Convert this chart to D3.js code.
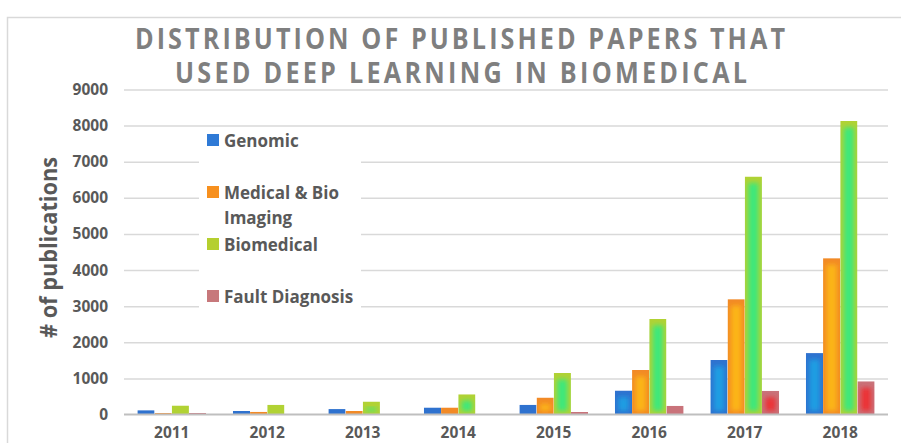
<!DOCTYPE html>
<html><head><meta charset="utf-8">
<script src="https://cdn.jsdelivr.net/npm/d3@7"></script>
<style>html,body{margin:0;padding:0;background:#fff;}svg{display:block;}</style>
</head><body>
<svg id="chart" width="901" height="443"></svg>
<script>
const years = ["2011","2012","2013","2014","2015","2016","2017","2018"];
const seriesNames = ["Genomic","Medical & Bio Imaging","Biomedical","Fault Diagnosis"];
const genomic   = [120, 100, 150, 195, 270, 665, 1510, 1700];
const medical   = [40, 75, 100, 195, 470, 1235, 3195, 4330];
const biomed    = [250, 270, 360, 560, 1150, 2645, 6590, 8130];
const fault     = [45, 0, 0, 0, 70, 240, 655, 920];
const yTicks    = [0,1000,2000,3000,4000,5000,6000,7000,8000,9000];
const titleLines = ["DISTRIBUTION OF PUBLISHED PAPERS THAT","USED DEEP LEARNING IN BIOMEDICAL"];
const yTitle = "# of publications";

const seriesValues = [genomic, medical, biomed, fault];
const edgeColors = ["#2f72cf","#f28a26","#b1d234","#c9737a"];
const centerColors = ["#1b9fe3","#fcb614","#3de87b","#ec3036"];
const legendColors = ["#2f7ad6","#f7901e","#b5cf2f","#c7787b"];

const svg = d3.select("#chart");
const textCol = "#595959";

// frame
svg.append("path").attr("d","M7.5,443 L7.5,17.5 L901,17.5").attr("fill","none").attr("stroke","#d9d9d9").attr("stroke-width",1.5);

const x0 = d3.scaleBand().domain(years).range([124,888]).paddingInner(0.28).paddingOuter(0.14);
const x1 = d3.scaleBand().domain(d3.range(4)).range([0,x0.bandwidth()]);
const y = d3.scaleLinear().domain([0,9000]).range([414.5,89.5]);

// gridlines
const grid = svg.append("g").attr("transform","translate(124,0)")
  .call(d3.axisLeft(y).tickValues(yTicks.slice(1)).tickSize(-764).tickFormat(""));
grid.select(".domain").remove();
grid.selectAll("line").attr("stroke","#d9d9d9").attr("stroke-width",1.5);

// y tick labels
const yax = svg.append("g").attr("transform","translate(108,0)")
  .call(d3.axisLeft(y).tickValues(yTicks).tickSize(0).tickPadding(0).tickFormat(d3.format("d")));
yax.select(".domain").remove();
yax.selectAll("text").attr("fill",textCol).attr("font-family","'Open Sans', sans-serif")
  .attr("font-weight","bold").attr("font-size","15.5px");

// defs
const defs = svg.append("defs");
defs.append("filter").attr("id","blur").attr("x","-50%").attr("y","-50%").attr("width","200%").attr("height","200%")
  .append("feGaussianBlur").attr("stdDeviation",2.6);

// bars
const bars = svg.append("g");
seriesValues.forEach((vals, si) => {
  vals.forEach((v, yi) => {
    if (v <= 0) return;
    const bx = x0(years[yi]) + x1(si);
    const bw = x1.bandwidth();
    const by = y(v);
    const bh = y(0) - by;
    const id = "c"+si+"_"+yi;
    defs.append("clipPath").attr("id",id).append("rect").attr("x",bx).attr("y",by).attr("width",bw).attr("height",bh);
    const g = bars.append("g").attr("clip-path","url(#"+id+")");
    g.append("rect").attr("x",bx).attr("y",by).attr("width",bw).attr("height",bh).attr("fill",edgeColors[si]);
    const ih = bh - 10;
    if (ih > 0) {
      g.append("rect").attr("x",bx+3.5).attr("y",by+6.5).attr("width",bw-7).attr("height",ih)
        .attr("fill",centerColors[si]).attr("filter","url(#blur)");
    }
  });
});

// baseline
svg.append("line").attr("x1",124).attr("x2",888).attr("y1",y(0)).attr("y2",y(0))
  .attr("stroke","#bfbfbf").attr("stroke-width",2);

// x labels
const xax = svg.append("g").attr("transform","translate(0,427)")
  .call(d3.axisBottom(x0).tickSize(0).tickPadding(0));
xax.select(".domain").remove();
xax.selectAll("text").attr("fill",textCol).attr("font-family","'Open Sans', sans-serif")
  .attr("font-weight","bold").attr("font-size","15.5px").attr("dy","0.71em");

// y title
svg.append("text").attr("transform","translate(57,247.5) rotate(-90)").attr("text-anchor","middle")
  .attr("fill",textCol).attr("font-family","'Open Sans', sans-serif").attr("font-weight","bold")
  .attr("font-size","23px").attr("textLength",181).attr("lengthAdjust","spacingAndGlyphs").text(yTitle);

// title: one text element, two lines, slightly narrowed glyphs with letter spacing
const sx = 0.9;
const tpos = [{x:135,w:650,y:49},{x:175,w:572,y:83.3}];
const title = svg.append("text").attr("transform","scale("+sx+",1)").attr("fill","#7f7f7f")
  .attr("font-family","'Open Sans', sans-serif").attr("font-weight","bold").attr("font-size","28px");
titleLines.forEach((t,i)=>{
  title.append("tspan").attr("x",tpos[i].x/sx).attr("y",tpos[i].y)
    .attr("textLength",tpos[i].w/sx).attr("lengthAdjust","spacing").text(t);
});

// legend
svg.append("rect").attr("x",199).attr("y",130).attr("width",162).attr("height",180).attr("fill","#fff");
const legendItems = [
  {lines:["Genomic"], sq:134, base:147.3},
  {lines:["Medical & Bio","Imaging"], sq:186, base:199},
  {lines:["Biomedical"], sq:238, base:251},
  {lines:["Fault Diagnosis"], sq:290, base:302.7}
];
legendItems.forEach((it,i)=>{
  svg.append("rect").attr("x",207).attr("y",it.sq).attr("width",12).attr("height",12).attr("fill",legendColors[i]);
  it.lines.forEach((ln,j)=>{
    svg.append("text").attr("x",224).attr("y",it.base + j*25).attr("fill",textCol)
      .attr("font-family","'Open Sans', sans-serif").attr("font-weight","bold").attr("font-size","17px").text(ln);
  });
});
</script>
</body></html>
